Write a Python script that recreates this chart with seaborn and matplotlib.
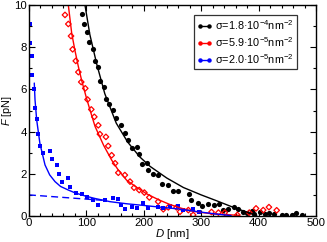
import numpy as np
import pandas as pd
import matplotlib
matplotlib.use("Agg")
import matplotlib.pyplot as plt
from matplotlib.ticker import MultipleLocator
from matplotlib.lines import Line2D
import seaborn as sns

# ---- data ----
black_x = [91.8, 96.4, 101.6, 105, 112, 115, 120.7, 123.7, 130, 133.5, 140, 147, 151.5, 159.7,
           166.5, 172, 179, 187.6, 191.6, 196, 205, 207.8, 216.5, 224, 231, 241.3, 250, 260,
           278.7, 283, 295, 300.8, 312, 322, 331.5, 338.5, 347, 357, 364.6, 372, 379, 388,
           392, 402, 411, 418.6, 427, 440, 447.7, 457.6, 466, 475]
black_y = [9.56, 9.08, 8.74, 8.23, 7.9, 7.35, 7.08, 6.41, 6.1, 5.55, 5.3, 5.04, 4.63, 4.29,
           3.95, 3.58, 3.2, 3.29, 2.94, 2.46, 2.53, 2.18, 1.99, 1.94, 1.5, 1.47, 1.18, 1.18,
           1.04, 0.76, 0.63, 0.49, 0.57, 0.52, 0.57, 0.28, 0.32, 0.41, 0.32, 0.2, 0.16, 0.25,
           0.09, 0.2, 0.09, 0.12, 0.09, 0.05, 0.03, 0.05, 0.15, 0.05]

red_x = [62.7, 68.5, 73.2, 76, 81.5, 86, 91, 98, 102, 108.5, 113.8, 120.7, 123.5, 134, 138,
         144, 150, 155.6, 167, 176, 183, 192, 201, 209.6, 225, 234, 242.7, 257, 263, 277.6,
         286, 318, 330, 341, 363, 383.8, 395.5, 408, 418, 431.5]
red_y = [9.53, 9.1, 8.53, 7.9, 7.35, 6.82, 6.35, 6.05, 5.52, 5.05, 4.7, 4.3, 3.88, 3.75, 3.32,
         2.88, 2.5, 2.05, 1.94, 1.63, 1.34, 1.23, 1.11, 0.88, 0.68, 0.32, 0.41, 0.41, 0.2, 0.28,
         0.05, 0.19, 0.16, 0.16, 0.05, 0.16, 0.36, 0.28, 0.42, 0.27]

blue_x = [1.7, 1.7, 4.7, 4.7, 9.2, 10.5, 13.4, 15, 19, 25, 36.6, 40.6, 48, 52.8, 57, 68.5,
          71.4, 81.9, 91.8, 100.5, 112, 119.7, 133, 145.8, 154.5, 159.7, 166.7, 179, 188.7,
          199, 206.7, 225, 234, 245.6, 260, 267.7, 286, 296.7]
blue_y = [9.1, 8.2, 7.6, 6.7, 6.0, 5.1, 4.6, 3.9, 3.3, 3.0, 3.1, 2.7, 2.4, 2.0, 1.63, 1.8,
          1.39, 1.1, 1.05, 0.88, 0.76, 0.5, 0.76, 0.87, 0.82, 0.5, 0.32, 0.44, 0.39, 0.63,
          0.36, 0.41, 0.36, 0.47, 0.47, 0.28, 0.32, 0.19]

# fitted curves
black_fit_x = [97.5, 106, 118, 132, 152, 172, 193, 211, 240, 269, 300, 327, 355, 385, 397]
black_fit_y = [10, 8.6, 7.2, 5.8, 4.4, 3.5, 2.8, 2.35, 1.8, 1.35, 1.0, 0.72, 0.42, 0.13, 0.0]

red_fit_x = [68.5, 74.4, 80, 86, 92, 100.5, 106, 115, 130, 144, 155, 170, 188, 205, 225,
             245, 265, 286, 320, 367]
red_fit_y = [10, 8.66, 7.85, 7.08, 6.4, 5.55, 5.05, 4.25, 3.35, 2.65, 2.2, 1.7, 1.35, 1.05,
             0.78, 0.55, 0.37, 0.22, 0.1, 0.03]

blue_fit_x = [9.2, 10.5, 13.4, 19, 27.9, 36, 45.3, 55, 68.5, 80, 97.6, 115, 129, 141, 170,
              200, 228, 262, 295, 330, 352]
blue_fit_y = [6.3, 5.5, 4.55, 3.44, 2.42, 1.95, 1.63, 1.4, 1.23, 1.1, 0.95, 0.83, 0.75, 0.68,
              0.58, 0.5, 0.42, 0.33, 0.2, 0.08, 0.02]

dash_x = [0, 65, 130]
dash_y = [1.0, 0.87, 0.74]

x_ticks = [0, 100, 200, 300, 400, 500]
y_ticks = [0, 2, 4, 6, 8, 10]
labels = ["σ=1.8·10$^{-4}$nm$^{-2}$", "σ=5.9·10$^{-5}$nm$^{-2}$", "σ=2.0·10$^{-5}$nm$^{-2}$"]

# ---- style ----
sns.set_style("ticks")
plt.rcParams['font.family'] = ['Liberation Sans', 'DejaVu Sans']
plt.rcParams['mathtext.fontset'] = 'custom'
plt.rcParams['mathtext.rm'] = 'Liberation Sans'
plt.rcParams['mathtext.it'] = 'Liberation Sans:italic'
plt.rcParams['mathtext.bf'] = 'Liberation Sans:bold'
plt.rcParams['text.color'] = 'black'
plt.rcParams['axes.labelcolor'] = 'black'
plt.rcParams['xtick.color'] = 'black'
plt.rcParams['ytick.color'] = 'black'

fig = plt.figure(figsize=(3.27, 2.42), dpi=100)
ax = fig.add_axes([29/327, 1-216/242, 287/327, 211/242])

sns.lineplot(x=black_fit_x, y=black_fit_y, ax=ax, color='black', lw=1.0, sort=False, estimator=None)
sns.lineplot(x=red_fit_x, y=red_fit_y, ax=ax, color='red', lw=1.0, sort=False, estimator=None)
sns.lineplot(x=blue_fit_x, y=blue_fit_y, ax=ax, color='blue', lw=1.0, sort=False, estimator=None)
ax.plot(dash_x, dash_y, color='blue', lw=1.0, ls=(0, (5, 3)))

sns.scatterplot(x=black_x, y=black_y, ax=ax, color='black', marker='o', s=14, linewidth=0)
sns.scatterplot(x=red_x, y=red_y, ax=ax, marker='D', s=8, facecolor='none',
                edgecolor='red', linewidth=0.9)
sns.scatterplot(x=blue_x, y=blue_y, ax=ax, color='blue', marker='s', s=9, linewidth=0)

ax.set_xlim(0, 500)
ax.set_ylim(0, 10)
ax.set_xticks(x_ticks)
ax.set_yticks(y_ticks)
ax.set_xticklabels([str(t) for t in x_ticks])
ax.set_yticklabels([str(t) for t in y_ticks])
ax.xaxis.set_minor_locator(MultipleLocator(20))
ax.yaxis.set_minor_locator(MultipleLocator(1))
ax.tick_params(which='both', direction='in', top=True, right=True, labelsize=8.2,
               color='black', labelcolor='black', width=0.8)
ax.tick_params(axis='x', which='both', pad=1.5)
ax.tick_params(axis='y', which='both', pad=1.5)
ax.tick_params(which='major', length=4)
ax.tick_params(which='minor', length=2)
for sp in ax.spines.values():
    sp.set_visible(True)
    sp.set_color('black')
    sp.set_linewidth(1.0)

ax.set_xlabel("$D$ [nm]", fontsize=8.2, labelpad=-1)
ax.set_ylabel("$F$ [pN]", fontsize=7.8, labelpad=0)

handles = [Line2D([0], [0], color=c, lw=1.0, marker='o', markersize=2.2)
           for c in ['black', 'red', 'blue']]
leg = ax.legend(handles, labels, loc='upper right', bbox_to_anchor=(0.934, 0.953),
                fontsize=7.8, frameon=True, fancybox=False, edgecolor='black',
                handlelength=1.4, handletextpad=0.3, borderpad=0.3, labelspacing=0.3,
                borderaxespad=0, numpoints=2)
leg.get_frame().set_linewidth(0.9)

fig.savefig("out.png", dpi=100)
